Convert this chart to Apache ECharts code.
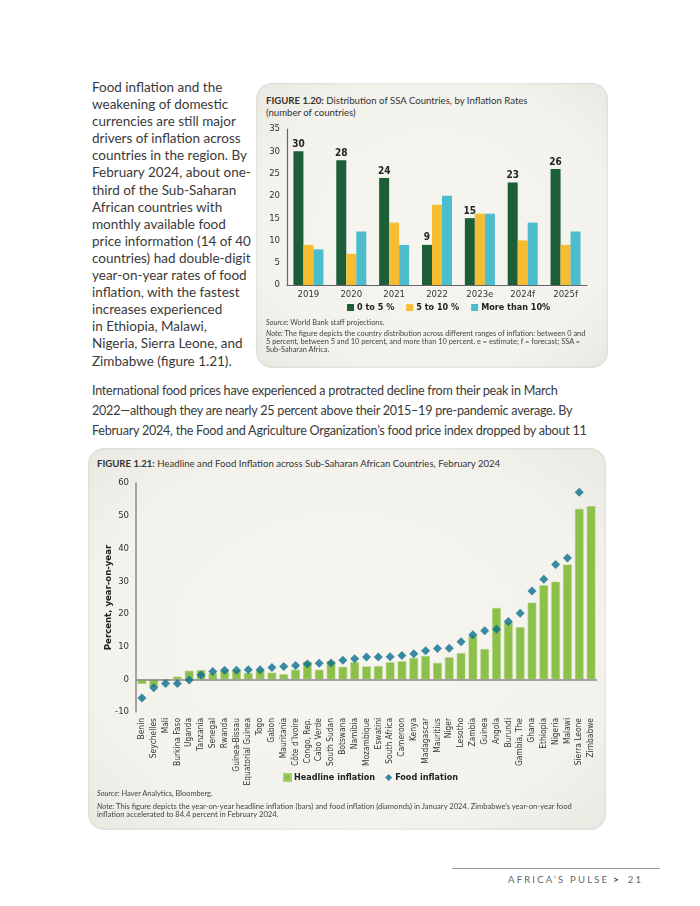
<!DOCTYPE html>
<html>
<head>
<meta charset="utf-8">
<script src="https://cdn.jsdelivr.net/npm/echarts@6/dist/echarts.min.js"></script>
<style>
  html, body { margin:0; padding:0; background:#fff; }
  body { width:700px; height:906px; position:relative; overflow:hidden; font-family: Lato, "Noto Sans", sans-serif; color:#333; }
  .abs { position:absolute; }
  .para1 { left:92px; top:79px; font-size:13.5px; line-height:17.1px; white-space:nowrap; color:#3a3a3a; }
  .para2 { left:92px; top:381px; font-size:12.6px; letter-spacing:-0.25px; line-height:20px; white-space:nowrap; color:#3a3a3a; }
  .box { background: radial-gradient(ellipse at center, #f6f5f0 0%, #f3f2ec 70%, #e9e8e1 100%); border-radius:16px; box-shadow: 0 0 3px rgba(0,0,0,0.12) inset; }
  .ftitle { font-size:9.6px; color:#333; line-height:12px; white-space:nowrap; }
  .ftitle b { font-weight:700; }
  .src { font-size:7.4px; color:#444; line-height:8.2px; white-space:nowrap; }
  .chart { position:absolute; }
  .footer { left:508px; top:874px; font-size:9.5px; letter-spacing:2.2px; color:#666; white-space:nowrap; }
  .footer b { color:#1c5e35; font-weight:900; letter-spacing:0; margin:0 9px 0 4px; }
</style>
</head>
<body>
<div class="abs para1">Food inflation and the<br>weakening of domestic<br>currencies are still major<br>drivers of inflation across<br>countries in the region. By<br>February 2024, about one-<br>third of the Sub-Saharan<br>African countries with<br>monthly available food<br>price information (14 of 40<br>countries) had double-digit<br>year-on-year rates of food<br>inflation, with the fastest<br>increases experienced<br>in Ethiopia, Malawi,<br>Nigeria, Sierra Leone, and<br>Zimbabwe (figure 1.21).</div>

<div class="abs box" style="left:256px; top:83px; width:352px; height:285px;"></div>
<div class="abs ftitle" style="left:266px; top:95px;"><b>FIGURE 1.20:</b> Distribution of SSA Countries, by Inflation Rates<br>(number of countries)</div>
<div id="c1" class="chart" style="left:256px; top:83px; width:352px; height:285px;"></div>
<div class="abs src" style="left:266px; top:319px;"><i>Source:</i> World Bank staff projections.</div>
<div class="abs src" style="left:266px; top:330px;"><i>Note:</i> The figure depicts the country distribution across different ranges of inflation: between 0 and<br>5 percent, between 5 and 10 percent, and more than 10 percent. e = estimate; f = forecast; SSA =<br>Sub-Saharan Africa.</div>

<div class="abs para2">International food prices have experienced a protracted decline from their peak in March<br>2022—although they are nearly 25 percent above their 2015–19 pre-pandemic average. By<br>February 2024, the Food and Agriculture Organization’s food price index dropped by about 11</div>

<div class="abs box" style="left:88px; top:448px; width:518px; height:382px;"></div>
<div class="abs ftitle" style="left:97px; top:458px;"><b>FIGURE 1.21:</b> Headline and Food Inflation across Sub-Saharan African Countries, February 2024</div>
<div id="c2" class="chart" style="left:88px; top:448px; width:518px; height:382px;"></div>
<div class="abs src" style="left:97px; top:790px;"><i>Source:</i> Haver Analytics, Bloomberg.</div>
<div class="abs src" style="left:97px; top:802px; font-size:7.6px;"><i>Note:</i> This figure depicts the year-on-year headline inflation (bars) and food inflation (diamonds) in January 2024. Zimbabwe’s year-on-year food<br>inflation accelerated to 84.4 percent in February 2024.</div>

<div class="abs" style="left:452px; top:868px; width:208px; height:1px; background:#999;"></div>
<div class="abs footer">AFRICA’S PULSE<b>&gt;</b>21</div>

<script>
// ---------- Figure 1.20 data ----------
const years = ['2019', '2020', '2021', '2022', '2023e', '2024f', '2025f'];
const low0to5 = [30, 28, 24, 9, 15, 23, 26];
const mid5to10 = [9, 7, 14, 18, 16, 10, 9];
const high10plus = [8, 12, 9, 20, 16, 14, 12];
const fig20Ticks = [0, 5, 10, 15, 20, 25, 30, 35];

// ---------- Figure 1.21 data ----------
const countries = ['Benin', 'Seychelles', 'Mali', 'Burkina Faso', 'Uganda', 'Tanzania', 'Senegal', 'Rwanda',
  'Guinea-Bissau', 'Equatorial Guinea', 'Togo', 'Gabon', 'Mauritania', 'Côte d’Ivoire', 'Congo, Rep.',
  'Cabo Verde', 'South Sudan', 'Botswana', 'Namibia', 'Mozambique', 'Eswatini', 'South Africa', 'Cameroon',
  'Kenya', 'Madagascar', 'Mauritius', 'Niger', 'Lesotho', 'Zambia', 'Guinea', 'Angola', 'Burundi',
  'Gambia, The', 'Ghana', 'Ethiopia', 'Nigeria', 'Malawi', 'Sierra Leone', 'Zimbabwe'];
const headline = [-1.4, -2.3, -0.5, 0.8, 2.6, 2.8, 1.8, 2.7, 2.7, 1.9, 2.8, 2.0, 1.5, 2.9, 5.3, 2.9, 5.5, 3.8,
  5.2, 3.9, 4.0, 5.2, 5.5, 6.5, 7.1, 5.0, 6.7, 8.0, 13.3, 9.2, 21.8, 17.4, 15.9, 23.4, 28.7, 29.8, 35.0, 52.1, 52.9];
const food = [-5.7, -2.6, -1.3, -1.3, -0.2, 1.3, 2.4, 2.8, 2.8, 2.9, 2.9, 3.6, 3.9, 4.2, 4.7, 4.9, 5.0, 5.8,
  6.3, 6.8, 6.8, 6.9, 7.3, 7.8, 8.7, 9.4, 9.5, 11.5, 13.6, 14.8, 15.3, 17.7, 20.2, 27.0, 30.6, 35.1, 37.1, 57.2, null];
const fig21Ticks = [-10, 0, 10, 20, 30, 40, 50, 60];

const CF = '"DejaVu Sans"';
const CS = 'condensed';
const COL_DARK = '#1b5e37', COL_YEL = '#f6bd33', COL_CYAN = '#4bbdcd';

const c1 = echarts.init(document.getElementById('c1'), null, { renderer: 'canvas' });
c1.setOption({
  animation: false,
  backgroundColor: 'transparent',
  grid: { left: 31, top: 46, right: 21, bottom: 83 },
  legend: {
    left: 86, top: 215, itemWidth: 7, itemHeight: 7, itemGap: 12,
    icon: 'rect',
    textStyle: { fontFamily: CF, fontStyle: CS, fontWeight: 'bold', fontSize: 9, color: '#222', padding: [0, 0, 0, -2] },
    data: ['0 to 5 %', '5 to 10 %', 'More than 10%']
  },
  xAxis: {
    type: 'category', data: years,
    axisLine: { lineStyle: { color: '#666', width: 1.2 } },
    axisTick: { show: false },
    axisLabel: { fontFamily: CF, fontStyle: CS, fontSize: 9.5, color: '#333', margin: 5 }
  },
  yAxis: {
    type: 'value', min: fig20Ticks[0], max: fig20Ticks[fig20Ticks.length - 1], interval: 5,
    axisLine: { show: true, lineStyle: { color: '#666', width: 1.2 } },
    axisTick: { show: false },
    splitLine: { show: false },
    axisLabel: { fontFamily: CF, fontStyle: CS, fontSize: 9.5, color: '#333', margin: 7 }
  },
  series: [
    { name: '0 to 5 %', type: 'bar', data: low0to5, barWidth: 10, barGap: '0%', itemStyle: { color: COL_DARK },
      label: { show: true, position: 'top', distance: 2, fontFamily: CF, fontStyle: CS, fontWeight: 'bold', fontSize: 10, color: '#222' } },
    { name: '5 to 10 %', type: 'bar', data: mid5to10, barWidth: 10, barGap: '0%', itemStyle: { color: COL_YEL } },
    { name: 'More than 10%', type: 'bar', data: high10plus, barWidth: 10, barGap: '0%', itemStyle: { color: COL_CYAN } }
  ]
});

const c2 = echarts.init(document.getElementById('c2'), null, { renderer: 'canvas' });
c2.setOption({
  animation: false,
  backgroundColor: 'transparent',
  grid: { left: 48, top: 35, width: 461, height: 229 },
  legend: {
    left: 190, top: 320, itemWidth: 7, itemHeight: 7, itemGap: 10,
    textStyle: { fontFamily: CF, fontStyle: CS, fontWeight: 'bold', fontSize: 9, color: '#222', padding: [0, 0, 0, -2] },
    data: [{ name: 'Headline inflation', icon: 'rect' }, { name: 'Food inflation', icon: 'diamond' }]
  },
  xAxis: {
    type: 'category', data: countries,
    axisLine: { show: false, onZero: false },
    axisTick: { show: false },
    axisLabel: { interval: 0, rotate: 90, fontFamily: CF, fontStyle: CS, fontSize: 8.4, color: '#333', margin: 6 }
  },
  yAxis: {
    type: 'value', min: fig21Ticks[0], max: fig21Ticks[fig21Ticks.length - 1], interval: 10,
    name: 'Percent, year-on-year', nameLocation: 'middle', nameGap: 22, nameRotate: 90, nameMoveOverlap: false,
    nameTextStyle: { fontFamily: CF, fontStyle: CS, fontWeight: 'bold', fontSize: 9.5, color: '#222' },
    axisLine: { show: true, lineStyle: { color: '#888', width: 1.5 } },
    axisTick: { show: false },
    splitLine: { show: false },
    axisLabel: { fontFamily: CF, fontStyle: CS, fontSize: 9.5, color: '#333', margin: 7 }
  },
  series: [
    { name: 'Headline inflation', type: 'bar', data: headline, barWidth: 8.5,
      itemStyle: { color: '#8cc04b', borderColor: '#a6cf6f', borderWidth: 0.6 },
      markLine: { silent: true, symbol: 'none', label: { show: false },
        lineStyle: { color: '#888', width: 1.5, type: 'solid' }, data: [{ yAxis: 0 }] } },
    { name: 'Food inflation', type: 'scatter', data: food, symbol: 'diamond', symbolSize: 9,
      itemStyle: { color: '#0b6e8f' }, z: 5 }
  ]
});
</script>
</body>
</html>
